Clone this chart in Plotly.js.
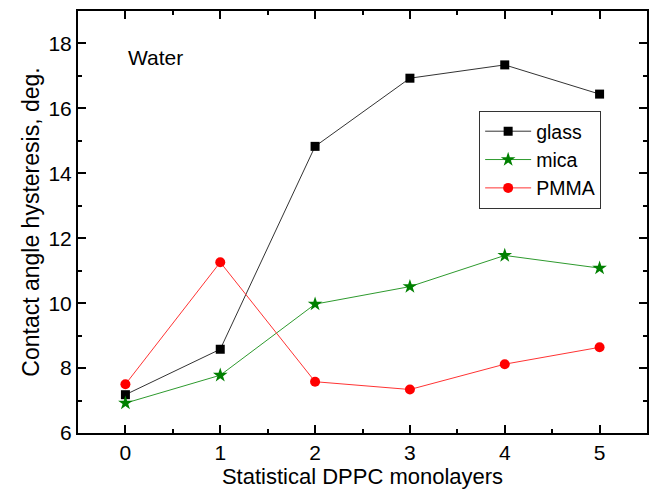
<!DOCTYPE html>
<html>
<head>
<meta charset="utf-8">
<script src="https://cdn.plot.ly/plotly-3.0.1.min.js"></script>
<style>
  html, body { margin: 0; padding: 0; background: #fff; }
  #chart { width: 650px; height: 494px; }
</style>
</head>
<body>
<div id="chart"></div>
<script>
// Statistical DPPC monolayers on each substrate
const monolayers = [0, 1, 2, 3, 4, 5];

// Contact angle hysteresis (deg.) with water
const glass = [7.18, 8.58, 14.83, 16.93, 17.34, 16.44];
const mica  = [6.92, 7.78, 9.97, 10.51, 11.47, 11.08];
const pmma  = [7.50, 11.26, 7.58, 7.34, 8.12, 8.64];

const font = 'Liberation Sans, Arial, Helvetica, sans-serif';

const traces = [
  {
    x: monolayers, y: glass, name: 'glass', type: 'scatter', mode: 'lines+markers',
    line: { color: '#333333', width: 1 },
    marker: { symbol: 'square', size: 9, color: '#000000' }
  },
  {
    x: monolayers, y: mica, name: 'mica', type: 'scatter', mode: 'lines+markers',
    line: { color: '#2e9a2e', width: 1 },
    marker: { symbol: 'star', size: 11, color: '#008000' }
  },
  {
    x: monolayers, y: pmma, name: 'PMMA', type: 'scatter', mode: 'lines+markers',
    line: { color: '#ff3333', width: 1 },
    marker: { symbol: 'circle', size: 10, color: '#ff0000' }
  }
];

const axisCommon = {
  showgrid: false,
  zeroline: false,
  showline: true,
  linecolor: '#000',
  linewidth: 2,
  mirror: 'ticks',
  ticks: 'inside',
  ticklen: 8,
  tickwidth: 2,
  tickcolor: '#000',
  tickfont: { family: font, size: 21, color: '#000' }
};

const layout = {
  width: 650,
  height: 494,
  margin: { l: 78, r: 3, t: 11, b: 61 },
  paper_bgcolor: '#fff',
  plot_bgcolor: '#fff',
  showlegend: true,
  font: { family: font, color: '#000' },
  xaxis: Object.assign({}, axisCommon, {
    range: [-0.5, 5.5],
    tickmode: 'linear', tick0: 0, dtick: 1,
    minor: { ticks: 'inside', ticklen: 4, tickwidth: 2, tickcolor: '#000', dtick: 0.5 },
    title: { text: 'Statistical DPPC monolayers', font: { family: font, size: 22, color: '#000' }, standoff: 4 }
  }),
  yaxis: Object.assign({}, axisCommon, {
    range: [6, 19],
    tickmode: 'linear', tick0: 6, dtick: 2,
    minor: { ticks: 'inside', ticklen: 4, tickwidth: 2, tickcolor: '#000', dtick: 1 },
    title: { text: 'Contact angle hysteresis, deg.', font: { family: font, size: 23, color: '#000' }, standoff: 2 }
  }),
  legend: {
    x: 0.705, y: 0.763, xanchor: 'left', yanchor: 'top',
    bgcolor: '#fff',
    bordercolor: '#333',
    borderwidth: 1,
    font: { family: font, size: 19.5, color: '#000' },
    tracegroupgap: 0,
    itemwidth: 46
  },
  annotations: [
    {
      text: 'Water', xref: 'paper', yref: 'paper',
      x: 0.085, y: 0.889, xanchor: 'left', yanchor: 'middle',
      showarrow: false, font: { family: font, size: 21, color: '#000' }
    }
  ]
};

Plotly.newPlot('chart', traces, layout, { displayModeBar: false, staticPlot: true });
</script>
</body>
</html>
